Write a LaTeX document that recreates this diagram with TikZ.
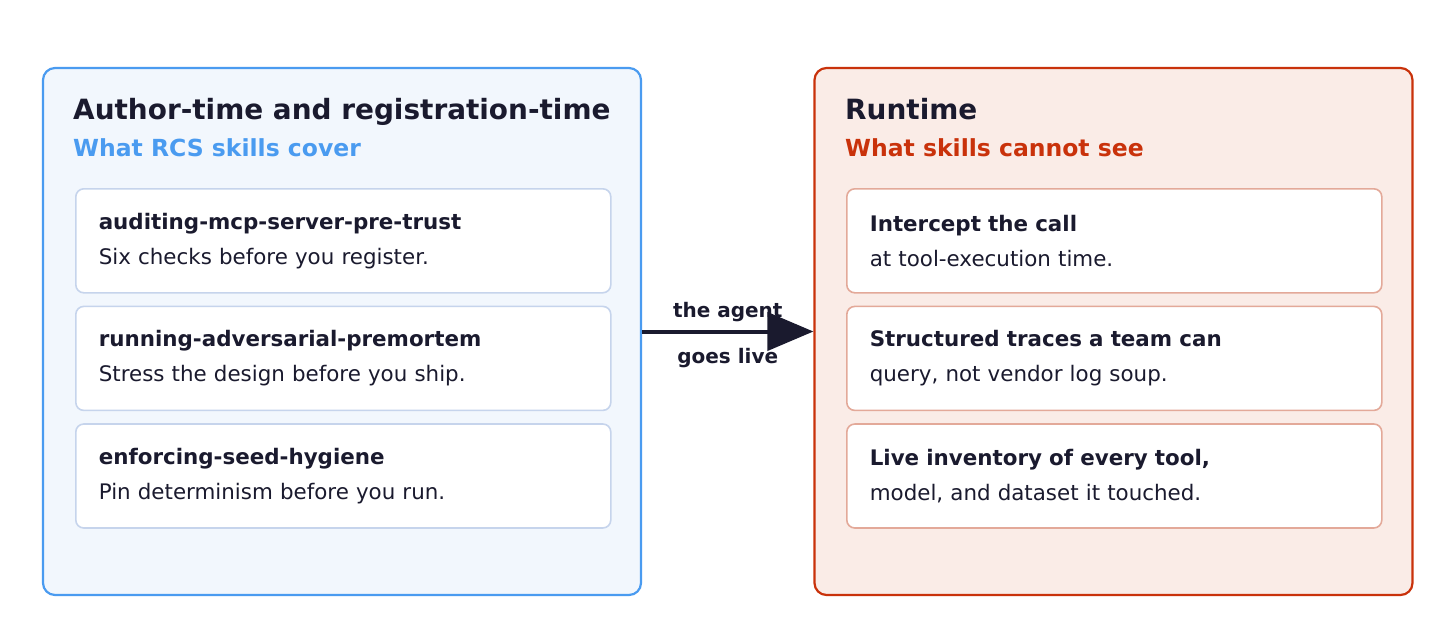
\documentclass[tikz,border=0pt]{standalone}
\usepackage{fontspec}
\setmainfont{DejaVu Sans}
\usepackage{tikz}
\usetikzlibrary{arrows.meta,positioning}

\definecolor{ink}{HTML}{1A1A2E}
\definecolor{skyline}{HTML}{4A9BF0}
\definecolor{skyfill}{HTML}{F2F7FD}
\definecolor{skycard}{HTML}{C6D4EC}
\definecolor{rustline}{HTML}{C9320B}
\definecolor{rustfill}{HTML}{FAECE7}
\definecolor{rustcard}{HTML}{E3A999}

\begin{document}
\begin{tikzpicture}[
  x=1pt, y=-1pt,
  every node/.style={text=ink},
  panel/.style={draw, line width=2.2pt, rounded corners=12pt, minimum width=598pt, minimum height=527pt},
  head/.style={anchor=base west, inner sep=0pt, font=\fontsize{27.9}{32}\selectfont\bfseries},
  sub/.style={anchor=base west, inner sep=0pt, font=\fontsize{23.5}{28}\selectfont\bfseries},
  card/.style={draw, fill=white, line width=1.6pt, rounded corners=8pt, text width=489pt, inner xsep=23pt, minimum height=104pt, align=left, font=\fontsize{21.4}{35}\selectfont},
  flow/.style={draw=ink, line width=4pt, -{Triangle[length=46pt,width=38pt]}},
  tag/.style={font=\fontsize{20}{24}\selectfont\bfseries},
]
\useasboundingbox (0,0) rectangle (1456,642);

% the two phases
\node[panel, draw=skyline, fill=skyfill] (left) at (342,331.5) {};
\node[panel, draw=rustline, fill=rustfill] (right) at (1113.5,331.5) {};

\node[head] (ltitle) at (73,119) {Author-time and registration-time};
\node[sub, text=skyline] (lsub) at (73,156) {What RCS skills cover};
\node[head] (rtitle) at (845,119) {Runtime};
\node[sub, text=rustline] (rsub) at (845,156) {What skills cannot see};

% skills we have
\node[card, draw=skycard, anchor=north west] (l1) at (75,188) {{\bfseries auditing-mcp-server-pre-trust}\\Six checks before you register.};
\node[card, draw=skycard, below=12pt of l1] (l2) {{\bfseries running-adversarial-premortem}\\Stress the design before you ship.};
\node[card, draw=skycard, below=12pt of l2] (l3) {{\bfseries enforcing-seed-hygiene}\\Pin determinism before you run.};

% what is missing
\node[card, draw=rustcard, anchor=north west] (r1) at (846,188) {{\bfseries Intercept the call}\\at tool-execution time.\\[-3pt]};
\node[card, draw=rustcard, below=12pt of r1] (r2) {{\bfseries Structured traces a team can}\\query, not vendor log soup.\\[-3pt]};
\node[card, draw=rustcard, below=12pt of r2] (r3) {{\bfseries Live inventory of every tool,}\\model, and dataset it touched.\\[-3pt]};

\draw[flow] (left) -- (right)
  node[tag, midway, yshift=19pt] (tagup) {the agent}
  node[tag, midway, yshift=-27pt] (tagdown) {goes live};
\end{tikzpicture}
\end{document}
